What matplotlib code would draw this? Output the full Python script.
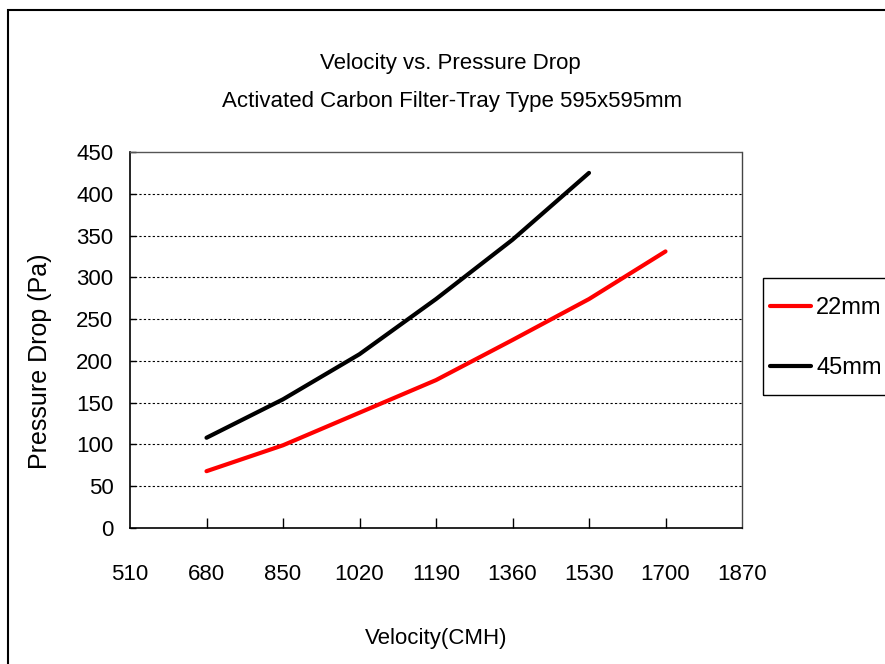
import matplotlib
matplotlib.use("Agg")
import matplotlib.pyplot as plt
from matplotlib.patches import Rectangle

plt.rcParams['font.family'] = ['Liberation Sans', 'DejaVu Sans']

velocity = [680, 850, 1020, 1190, 1360, 1530, 1700]
drop_22mm = [68, 99, 138, 177, 225, 274, 331]
drop_45mm = [108, 154, 208, 274, 345, 425]
x_ticks = [510, 680, 850, 1020, 1190, 1360, 1530, 1700, 1870]
y_ticks = [0, 50, 100, 150, 200, 250, 300, 350, 400, 450]

W, H = 885, 664
fig = plt.figure(figsize=(W / 100, H / 100), dpi=100)
fig.patch.set_facecolor('white')

# outer frame
fig.add_artist(Rectangle((8 / W, -0.1), 1.2, 1 - 10 / H + 0.1, transform=fig.transFigure,
                         fill=False, edgecolor='black', linewidth=1.5, clip_on=False))

ax = fig.add_axes([130 / W, 1 - 528 / H, (742 - 130) / W, (528 - 152) / H])
ax.plot(velocity, drop_22mm, color='#ff0000', lw=3, solid_capstyle='round', label='22mm')
ax.plot(velocity[:len(drop_45mm)], drop_45mm, color='black', lw=3, solid_capstyle='round', label='45mm')

ax.set_xlim(510, 1870)
ax.set_ylim(0, 450)
ax.set_xticks(x_ticks)
ax.set_yticks(y_ticks)
ax.set_xticklabels([str(v) for v in x_ticks])
ax.set_yticklabels([str(v) for v in y_ticks])
ax.tick_params(axis='x', direction='in', length=7, width=1, pad=26, labelsize=16)
ax.tick_params(axis='y', direction='in', length=4, width=1, pad=12, labelsize=16)
for t in ax.xaxis.get_major_ticks()[::8]:
    t.tick1line.set_visible(False)

for v in y_ticks[1:-1]:
    ax.axhline(v, color='black', lw=0.8, ls=(0, (2, 2)), zorder=0)

for s in ['left', 'bottom']:
    ax.spines[s].set_color('black')
    ax.spines[s].set_linewidth(1.2)
ax.spines['right'].set_color('#444444')
ax.spines['right'].set_linewidth(1)
ax.spines['top'].set_color('#555555')
ax.spines['top'].set_linestyle((0, (2, 1)))
ax.spines['top'].set_linewidth(1)

ax.set_xlabel('Velocity(CMH)', fontsize=16, labelpad=31)
fig.text(40 / W, 1 - 361 / H, 'Pressure Drop (Pa)', rotation=90, fontsize=18,
         ha='center', va='center')

fig.text(450 / W, 1 - 63 / H, 'Velocity vs. Pressure Drop', fontsize=16, ha='center', va='center')
fig.text(452 / W, 1 - 101 / H, 'Activated Carbon Filter-Tray Type 595x595mm', fontsize=16,
         ha='center', va='center')

# legend box
fig.add_artist(Rectangle((763 / W, 1 - 395 / H), 0.3, (395 - 278) / H, transform=fig.transFigure,
                         fill=False, edgecolor='black', linewidth=1, clip_on=False))
leg = ax.legend(loc='center left', bbox_to_anchor=(770 / W, 1 - 338 / H),
                bbox_transform=fig.transFigure, fontsize=17, frameon=False,
                handlelength=1.75, handletextpad=0.2, labelspacing=1.6,
                borderpad=0.0, borderaxespad=0)

fig.savefig('out.png', dpi=100, facecolor='white')
